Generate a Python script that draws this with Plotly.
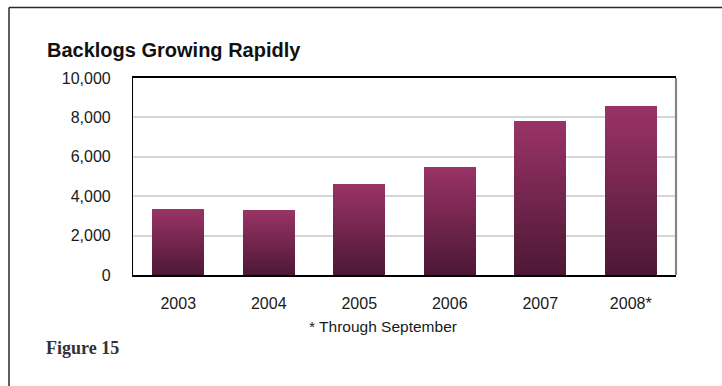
import plotly.graph_objects as go

# Chart data
years = ["2003", "2004", "2005", "2006", "2007", "2008*"]
backlogs = [3350, 3300, 4600, 5500, 7800, 8600]
y_ticks = [0, 2000, 4000, 6000, 8000, 10000]
y_tick_labels = ["0", "2,000", "4,000", "6,000", "8,000", "10,000"]

title_text = "Backlogs Growing Rapidly"
footnote_text = "* Through September"
figure_label = "Figure 15"

# Canvas and plot-area geometry (pixels)
W, H = 722, 386
M_L, M_R, M_T, M_B = 133, 46, 78, 111
PW, PH = W - M_L - M_R, H - M_T - M_B


def px_x(x):
    return (x - M_L) / PW


def px_y(y):
    return (H - M_B - y) / PH


# Vertical gradient for the bars: dark at the base, magenta at the top
BOTTOM_RGB = (0x4C, 0x18, 0x34)
TOP_RGB = (0x9A, 0x33, 0x67)
N_SLICES = 48


def blend(t):
    r, g, b = (round(a + (c - a) * t) for a, c in zip(BOTTOM_RGB, TOP_RGB))
    return f"rgb({r},{g},{b})"


fig = go.Figure()
for i in range(N_SLICES):
    fig.add_trace(go.Bar(
        x=years,
        y=[v / N_SLICES for v in backlogs],
        marker=dict(color=blend((i + 0.5) / N_SLICES), line=dict(width=0)),
        showlegend=False,
        hoverinfo="skip",
    ))

font_sans = "Liberation Sans, Arial, sans-serif"

fig.update_layout(
    width=W, height=H,
    margin=dict(l=M_L, r=M_R, t=M_T, b=M_B, pad=0),
    paper_bgcolor="white",
    plot_bgcolor="white",
    barmode="stack",
    bargap=0.425,
    font=dict(family=font_sans, color="#1a1a1a", size=15),
    xaxis=dict(
        showline=True, linecolor="black", linewidth=1.5, mirror=True,
        showgrid=False, ticks="", ticklabelstandoff=13,
        tickfont=dict(size=16, color="#1a1a1a"),
        fixedrange=True,
    ),
    yaxis=dict(
        range=[0, 10000],
        tickvals=y_ticks, ticktext=y_tick_labels,
        showline=True, linecolor="black", linewidth=1.2,
        showgrid=True, gridcolor="#d6d6d6", gridwidth=1.5,
        zeroline=False, ticks="", ticklabelstandoff=18,
        tickfont=dict(size=16, color="#1a1a1a"),
        fixedrange=True,
    ),
)

# Grey right edge of the plot area
fig.add_shape(type="line", xref="paper", yref="paper",
              x0=1, x1=1, y0=0, y1=1,
              line=dict(color="#858585", width=2.2))

# Outer frame: top rule and left rule
fig.add_shape(type="line", xref="paper", yref="paper",
              x0=px_x(9), x1=px_x(W + 2), y0=px_y(7.5), y1=px_y(7.5),
              line=dict(color="#2a2a2a", width=1.5))
fig.add_shape(type="line", xref="paper", yref="paper",
              x0=px_x(9), x1=px_x(9), y0=px_y(7.5), y1=px_y(H + 2),
              line=dict(color="#2a2a2a", width=1.5))

fig.add_annotation(text="<b>" + title_text + "</b>", xref="paper", yref="paper",
                   x=px_x(45), y=px_y(50), xanchor="left", yanchor="middle",
                   showarrow=False,
                   font=dict(family=font_sans, size=20, color="#111111"))

fig.add_annotation(text=footnote_text, xref="paper", yref="paper",
                   x=px_x(383), y=px_y(326.5), xanchor="center", yanchor="middle",
                   showarrow=False,
                   font=dict(family=font_sans, size=15.5, color="#1a1a1a"))

fig.add_annotation(text="<b>" + figure_label + "</b>", xref="paper", yref="paper",
                   x=px_x(44), y=px_y(348), xanchor="left", yanchor="middle",
                   showarrow=False,
                   font=dict(family="Liberation Serif, Times New Roman, serif",
                             size=18, color="#333333"))

fig.write_html("out.html", config={"displayModeBar": False})
